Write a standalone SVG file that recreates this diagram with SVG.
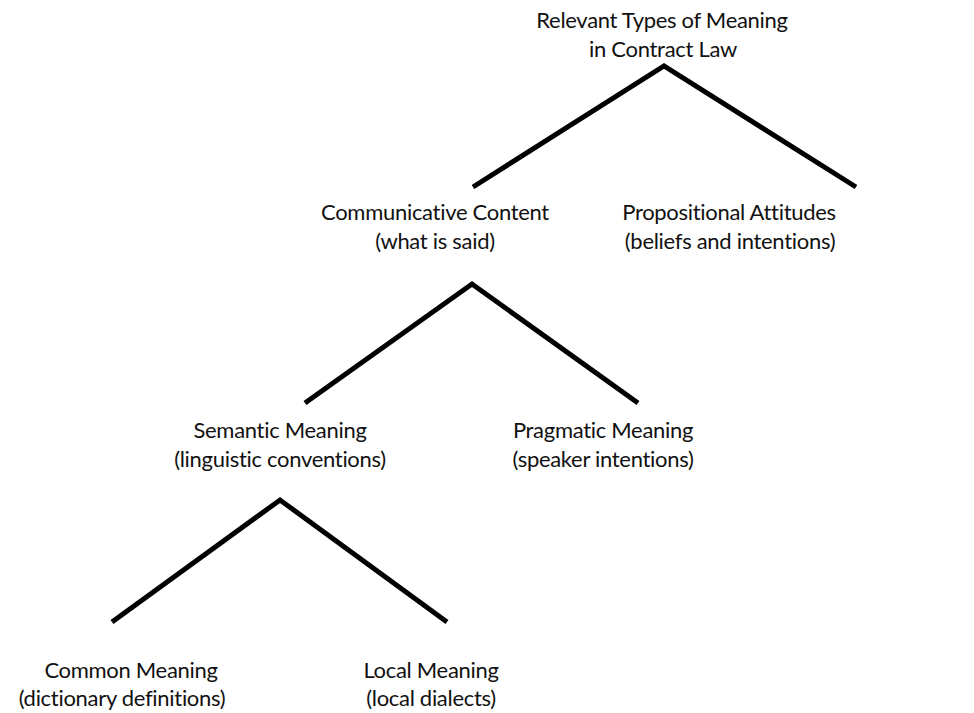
<svg xmlns="http://www.w3.org/2000/svg" width="974" height="713" viewBox="0 0 974 713">
<style>
text{font-family:Lato,"Open Sans","DejaVu Sans",sans-serif;font-size:22px;letter-spacing:-0.3px;fill:#111;text-anchor:middle}
.c{stroke:#000;stroke-width:5;fill:none;stroke-linejoin:miter}
</style>
<rect width="974" height="713" fill="#fff"/>
<g id="connectors">
<polyline class="c" points="473,187 664,66 856,187"/>
<polyline class="c" points="305,403 472,284 638,403"/>
<polyline class="c" points="112,622 280,500 447,622"/>
</g>
<g id="n-root"><text x="662" y="28">Relevant Types of Meaning</text><text x="663" y="57">in Contract Law</text></g>
<g id="n-communicative"><text x="435" y="220">Communicative Content</text><text x="435" y="249">(what is said)</text></g>
<g id="n-propositional"><text x="729" y="220">Propositional Attitudes</text><text x="730" y="249">(beliefs and intentions)</text></g>
<g id="n-semantic"><text x="280" y="438">Semantic Meaning</text><text x="280" y="467">(linguistic conventions)</text></g>
<g id="n-pragmatic"><text x="603" y="438">Pragmatic Meaning</text><text x="603" y="467">(speaker intentions)</text></g>
<g id="n-common"><text x="131" y="678">Common Meaning</text><text x="122" y="706">(dictionary definitions)</text></g>
<g id="n-local"><text x="431" y="678">Local Meaning</text><text x="431" y="706">(local dialects)</text></g>
</svg>
